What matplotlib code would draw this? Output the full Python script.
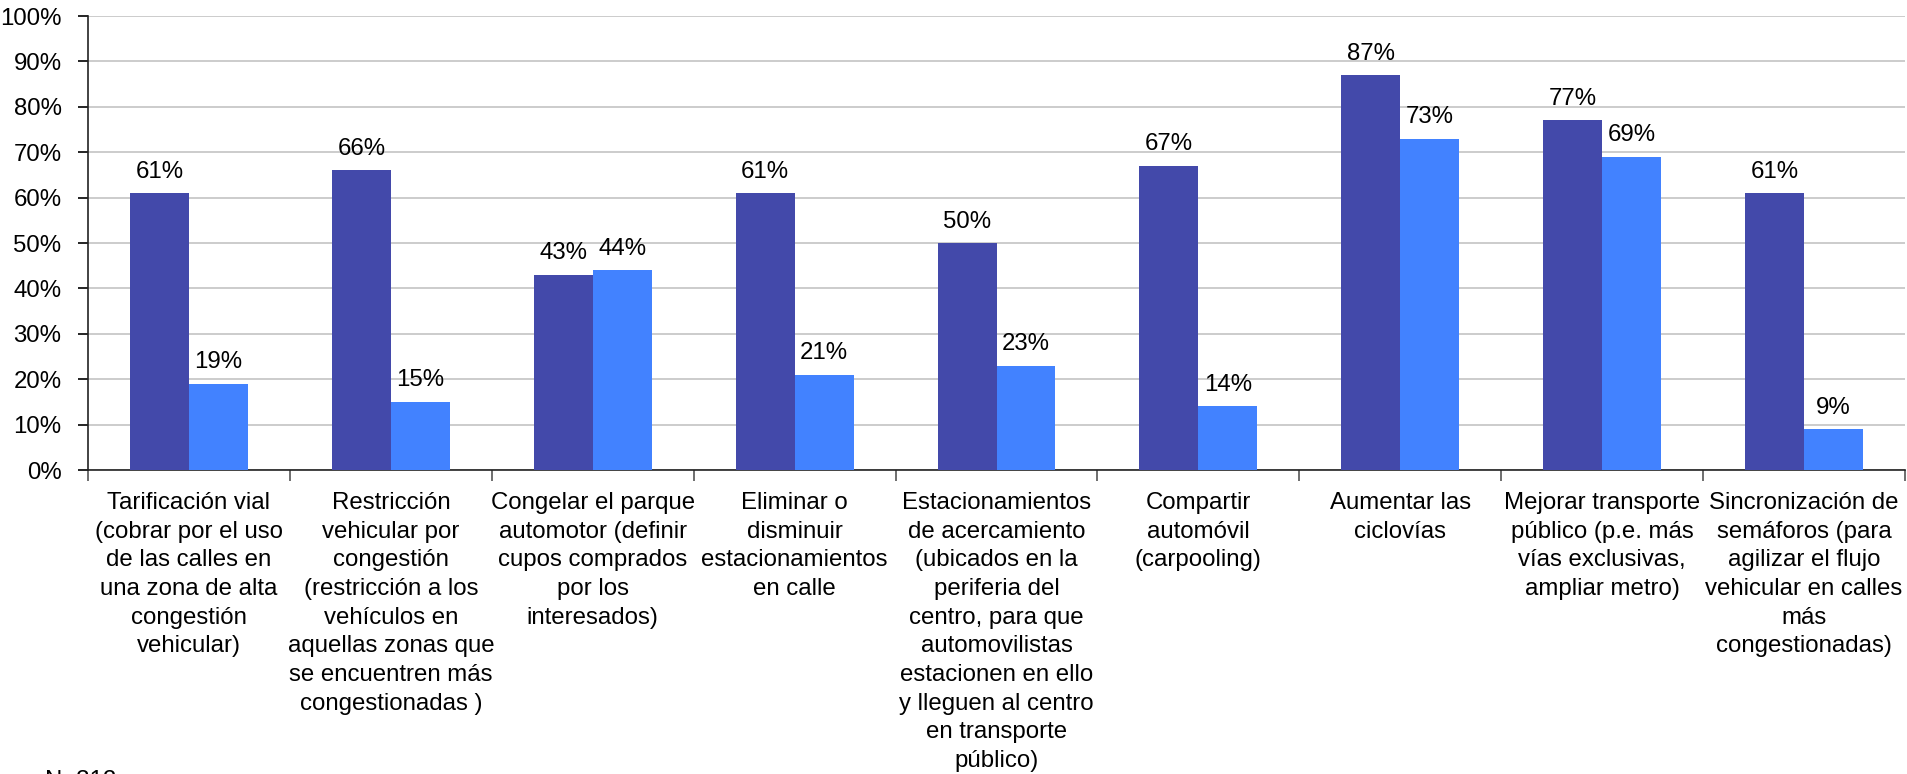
import matplotlib
matplotlib.use("Agg")
import matplotlib.pyplot as plt
import numpy as np

categories = [
    "Tarificación vial\n(cobrar por el uso\nde las calles en\nuna zona de alta\ncongestión\nvehicular)",
    "Restricción\nvehicular por\ncongestión\n(restricción a los\nvehículos en\naquellas zonas que\nse encuentren más\ncongestionadas )",
    "Congelar el parque\nautomotor (definir\ncupos comprados\npor los\ninteresados)",
    "Eliminar o\ndisminuir\nestacionamientos\nen calle",
    "Estacionamientos\nde acercamiento\n(ubicados en la\nperiferia del\ncentro, para que\nautomovilistas\nestacionen en ello\ny lleguen al centro\nen transporte\npúblico)",
    "Compartir\nautomóvil\n(carpooling)",
    "Aumentar las\nciclovías",
    "Mejorar transporte\npúblico (p.e. más\nvías exclusivas,\nampliar metro)",
    "Sincronización de\nsemáforos (para\nagilizar el flujo\nvehicular en calles\nmás\ncongestionadas)",
]
series_a = [61, 66, 43, 61, 50, 67, 87, 77, 61]
series_b = [19, 15, 44, 21, 23, 14, 73, 69, 9]
yticks = [0, 10, 20, 30, 40, 50, 60, 70, 80, 90, 100]
note = "N=312"

W, H = 1907, 774
plt.rcParams['font.family'] = ['Liberation Sans', 'DejaVu Sans']
fig = plt.figure(figsize=(W / 100, H / 100), dpi=100)
fs = 17.3
ax = fig.add_axes([88 / W, 1 - 470 / H, (1905 - 88) / W, (470 - 16) / H])

x = np.arange(len(categories))
bw = 0.292
dark = "#4349AA"
light = "#4282FF"
ax.bar(x - bw / 2, series_a, bw, color=dark, zorder=3)
ax.bar(x + bw / 2, series_b, bw, color=light, zorder=3)

for xi, a, b in zip(x, series_a, series_b):
    ax.annotate(f"{a}%", (xi - bw / 2, a), xytext=(0, 7.5), textcoords="offset points",
                ha="center", va="bottom", fontsize=fs)
    ax.annotate(f"{b}%", (xi + bw / 2, b), xytext=(0, 7.5), textcoords="offset points",
                ha="center", va="bottom", fontsize=fs)

ax.set_xlim(-0.5, len(categories) - 0.5)
ax.set_ylim(0, 100)
ax.set_yticks(yticks)
ax.set_yticklabels([f"{t}%" for t in yticks], fontsize=fs)
ax.yaxis.grid(True, color="#C8C8C8", linewidth=1.3, zorder=0)
ax.set_axisbelow(True)

ax.set_xticks(x)
ax.set_xticklabels(categories, fontsize=fs, linespacing=1.39, va="top")
ax.tick_params(axis="x", which="major", length=0, pad=16)
ax.set_xticks(np.arange(-0.5, len(categories)), minor=True)
ax.tick_params(axis="x", which="minor", length=8, width=1.2, color="#555555", direction="out")
ax.tick_params(axis="y", length=7, width=1.2, direction="out", pad=12)

for s in ["top", "right"]:
    ax.spines[s].set_visible(False)
ax.spines["left"].set_color("#222222")
ax.spines["bottom"].set_color("#222222")
ax.spines["left"].set_linewidth(1.2)
ax.spines["bottom"].set_linewidth(1.2)

fig.text(45 / W, 1 - 770 / H, note, fontsize=fs, ha="left", va="top")

fig.savefig("out.png", dpi=100)
